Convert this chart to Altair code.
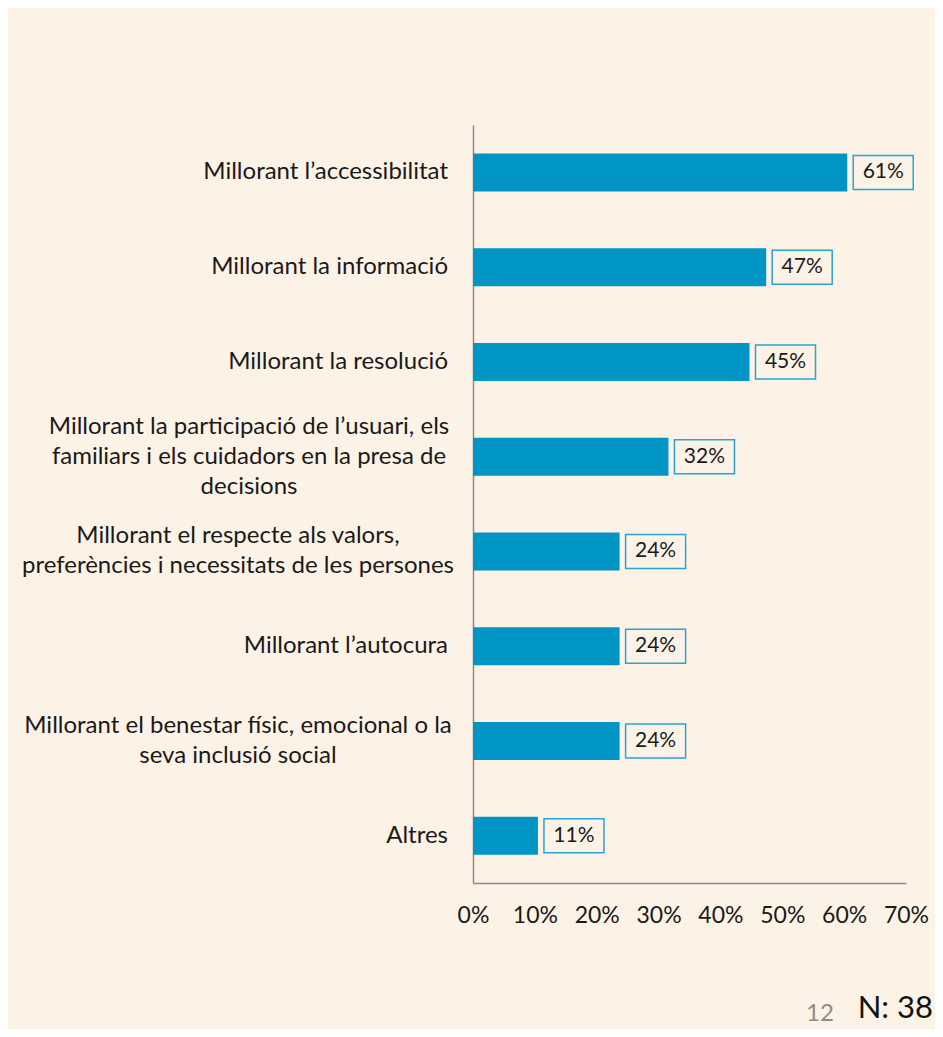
import altair as alt
import pandas as pd

categories = [
    "Millorant l\u2019accessibilitat",
    "Millorant la informació ",
    "Millorant la resolució",
    "Millorant la participació de l\u2019usuari, els\nfamiliars i els cuidadors en la presa de\ndecisions",
    "Millorant el respecte als valors,\npreferències i necessitats de les persones",
    "Millorant l\u2019autocura",
    "Millorant el benestar físic, emocional o la\nseva inclusió social",
    "Altres ",
]
values = [60.5, 47.4, 44.7, 31.6, 23.7, 23.7, 23.7, 10.5]
value_labels = ["61%", "47%", "45%", "32%", "24%", "24%", "24%", "11%"]
n_lines = [1, 1, 1, 3, 2, 1, 2, 1]
x_ticks = [0, 0.1, 0.2, 0.3, 0.4, 0.5, 0.6, 0.7]

df = pd.DataFrame({
    "cat": categories,
    "value": [v / 100 for v in values],
    "label": value_labels,
    "nl": n_lines,
})

BG = "#FDF2E6"
BAR = "#0095C4"
FONT = "Lato"
AXIS_GRAY = "#8C8C8C"
TXT = "#1a1a1a"
LH = 30

y_enc = alt.Y(
    "cat:N", sort=None, title=None,
    scale=alt.Scale(paddingInner=0.6, paddingOuter=0.3),
    axis=alt.Axis(labels=False, ticks=False, domainColor=AXIS_GRAY, domainWidth=1.5),
)
x_enc = alt.X(
    "value:Q", title=None,
    scale=alt.Scale(domain=[0, 0.7], nice=False),
    axis=alt.Axis(values=x_ticks, format=".0%", ticks=False, grid=False,
                  labelFont=FONT, labelFontSize=23, labelColor=TXT,
                  labelFlush=False, labelOverlap=False,
                  labelPadding=21, domainColor=AXIS_GRAY, domainWidth=1.5),
)

base = alt.Chart(df)
y_plain = alt.Y("cat:N", sort=None)

bars = base.mark_bar(color=BAR, size=38).encode(x=x_enc, y=y_enc)

boxes = base.mark_bar(size=34, fill=BG, stroke="#2AA3D4", strokeWidth=1.5,
                      xOffset=6, x2Offset=66).encode(
    x="value:Q", x2="value:Q", y=y_plain
)

vals = base.mark_text(font=FONT, fontSize=21, color=TXT, dx=36,
                      align="center", baseline="middle").encode(
    x="value:Q", y=y_plain, text="label:N"
)

single_lbl = base.transform_filter("datum.nl == 1").mark_text(
    font=FONT, fontSize=24, color=TXT, align="right", baseline="middle"
).encode(x=alt.value(-25), y=y_plain, text="cat:N")

def multi_layer(n, xc):
    return base.transform_filter(f"datum.nl == {n}").transform_calculate(
        lines="split(datum.cat, '\\n')"
    ).mark_text(
        font=FONT, fontSize=24, color=TXT, align="center", baseline="middle",
        lineHeight=LH, dy=-(n - 1) * LH / 2
    ).encode(x=alt.value(xc), y=y_plain, text="lines:N")

multi2 = multi_layer(2, -235)
multi3 = multi_layer(3, -224)

page_num = alt.Chart(pd.DataFrame({"t": ["12"]})).mark_text(
    font=FONT, fontSize=24, color="#8C8C8C", align="center", baseline="middle"
).encode(x=alt.value(347), y=alt.value(889), text="t:N")

n_text = alt.Chart(pd.DataFrame({"t": ["N: 38"]})).mark_text(
    font=FONT, fontSize=31, color="#111111", align="right", baseline="middle"
).encode(x=alt.value(460), y=alt.value(884), text="t:N")

chart = alt.layer(bars, boxes, vals, single_lbl, multi2, multi3, page_num, n_text).properties(
    width=433, height=758,
    background=BG,
    padding={"left": 465, "top": 117, "right": 29, "bottom": 146},
    autosize=alt.AutoSizeParams(type="none"),
).configure_view(stroke=None)

chart.save("out.html", embed_options={"renderer": "svg", "actions": False})
